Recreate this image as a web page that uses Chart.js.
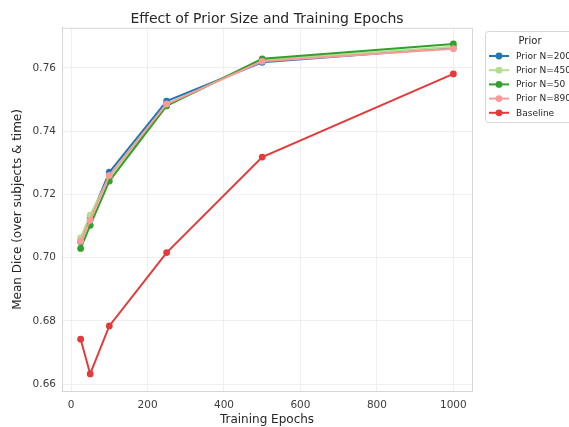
<!DOCTYPE html>
<html>
<head>
<meta charset="utf-8">
<script src="https://cdn.jsdelivr.net/npm/chart.js"></script>
<style>
  html, body { margin: 0; padding: 0; background: #fff; overflow: hidden; }
  #wrap { width: 569px; height: 427px; }
</style>
</head>
<body>
<div id="wrap"><canvas id="line-chart" width="569" height="427"></canvas></div>
<script>
// epochs on the x axis
const epochs = [25, 50, 100, 250, 500, 1000];

// mean dice per prior size
const priorN200 = [0.7050, 0.7125, 0.7270, 0.7495, 0.7618, 0.7664];
const priorN450 = [0.7062, 0.7134, 0.7255, 0.7482, 0.7625, 0.7667];
const priorN50 = [0.7029, 0.7102, 0.7242, 0.7480, 0.7629, 0.7676];
const priorN890 = [0.7052, 0.7118, 0.7260, 0.7486, 0.7621, 0.7661];
const baseline = [0.6742, 0.6632, 0.6784, 0.7016, 0.7318, 0.7581];

const seriesLabels = ['Prior N=200', 'Prior N=450', 'Prior N=50', 'Prior N=890', 'Baseline'];
const seriesColors = ['#1f78b4', '#b2df8a', '#33a02c', '#fb9a99', '#e53a3a'];

const xTicks = [0, 200, 400, 600, 800, 1000];
const yTicks = [0.66, 0.68, 0.70, 0.72, 0.74, 0.76];

const FONT = "'DejaVu Sans', sans-serif";

function makeSet(label, values, color, order) {
    return {
        label: label,
        data: epochs.map((e, i) => ({ x: e, y: values[i] })),
        borderColor: color,
        backgroundColor: color,
        borderWidth: 2,
        pointRadius: 3.4,
        pointHoverRadius: 3.4,
        pointBorderWidth: 0,
        tension: 0,
        order: order
    };
}

const allSeries = [priorN200, priorN450, priorN50, priorN890, baseline];

// legend drawn by hand so it can run off the right edge like the original
const legendPlugin = {
    id: 'sideLegend',
    afterDraw(chart) {
        const ctx = chart.ctx;
        const x0 = 485.5, y0 = 31.5, w = 100, h = 91;
        ctx.save();
        ctx.fillStyle = 'rgba(255,255,255,0.8)';
        ctx.strokeStyle = '#d6d6d6';
        ctx.lineWidth = 1;
        ctx.beginPath();
        ctx.roundRect(x0, y0, w, h, 3);
        ctx.fill();
        ctx.stroke();

        ctx.fillStyle = '#262626';
        ctx.font = '10px ' + FONT;
        ctx.textAlign = 'center';
        ctx.textBaseline = 'middle';
        ctx.fillText('Prior', 530, 41.5);

        ctx.font = '9px ' + FONT;
        ctx.textAlign = 'left';
        seriesLabels.forEach((lab, i) => {
            const y = 56 + i * 14.2;
            ctx.strokeStyle = seriesColors[i];
            ctx.fillStyle = seriesColors[i];
            ctx.lineWidth = 2;
            ctx.beginPath();
            ctx.moveTo(489, y);
            ctx.lineTo(509, y);
            ctx.stroke();
            ctx.beginPath();
            ctx.arc(499, y, 3.4, 0, Math.PI * 2);
            ctx.fill();
            ctx.fillStyle = '#262626';
            ctx.fillText(lab, 516, y + 0.5);
        });
        ctx.restore();
    }
};

const ctx = document.getElementById('line-chart').getContext('2d');
window.lineChart = new Chart(ctx, {
    type: 'line',
    data: {
        datasets: seriesLabels.map((lab, i) => makeSet(lab, allSeries[i], seriesColors[i], 5 - i))
    },
    options: {
        responsive: false,
        animation: false,
        layout: { padding: { left: 0, right: 97, top: 0, bottom: 0 } },
        plugins: {
            legend: { display: false },
            tooltip: { enabled: false },
            title: {
                display: true,
                fullSize: false,
                text: 'Effect of Prior Size and Training Epochs',
                color: '#262626',
                font: { family: FONT, size: 14, weight: 'normal', lineHeight: 1.2 },
                padding: { top: 11, bottom: 0 }
            }
        },
        scales: {
            x: {
                type: 'linear',
                min: -23.75,
                max: 1048.75,
                afterBuildTicks: (s) => { s.ticks = xTicks.map(v => ({ value: v })); },
                afterFit: (s) => { s.height = 36; },
                grid: { color: '#ebebeb', lineWidth: 0.8, drawTicks: false },
                border: { color: '#d6d6d6', width: 1 },
                ticks: {
                    color: '#3c3c3c',
                    padding: 8,
                    maxRotation: 0,
                    font: { family: FONT, size: 10.5 },
                    callback: (v) => String(v)
                },
                title: {
                    display: true,
                    text: 'Training Epochs',
                    color: '#262626',
                    font: { family: FONT, size: 12 },
                    padding: { top: 0, bottom: 0 }
                }
            },
            y: {
                min: 0.6578,
                max: 0.7727,
                afterBuildTicks: (s) => { s.ticks = yTicks.map(v => ({ value: v })); },
                afterFit: (s) => { s.width = 62; },
                grid: { color: '#ebebeb', lineWidth: 0.8, drawTicks: false },
                border: { color: '#d6d6d6', width: 1 },
                ticks: {
                    color: '#3c3c3c',
                    padding: 6,
                    font: { family: FONT, size: 10.5 },
                    callback: (v) => v.toFixed(2)
                },
                title: {
                    display: true,
                    text: 'Mean Dice (over subjects & time)',
                    color: '#262626',
                    font: { family: FONT, size: 12 },
                    padding: { top: 11, bottom: 0 }
                }
            }
        }
    },
    plugins: [legendPlugin, {
        id: 'rightBorder',
        afterDraw(chart) {
            const a = chart.chartArea, c = chart.ctx;
            c.save();
            c.strokeStyle = '#d6d6d6';
            c.lineWidth = 1;
            c.beginPath();
            c.moveTo(a.right + 0.5, a.top);
            c.lineTo(a.right + 0.5, a.bottom);
            c.moveTo(a.left, a.top + 0.5);
            c.lineTo(a.right, a.top + 0.5);
            c.stroke();
            c.restore();
        }
    }]
});
</script>
</body>
</html>
